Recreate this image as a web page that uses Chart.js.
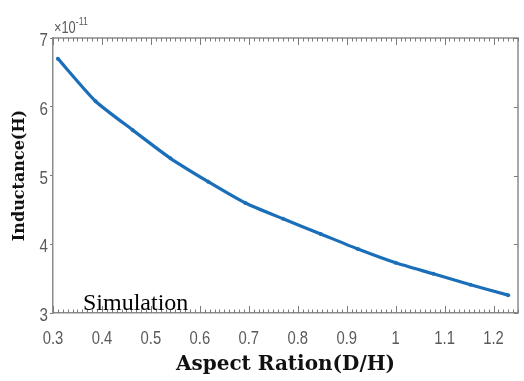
<!DOCTYPE html>
<html>
<head>
<meta charset="utf-8">
<script src="https://cdn.jsdelivr.net/npm/chart.js@4"></script>
<style>
  html, body { margin: 0; padding: 0; background: #fff; }
  #wrap { width: 524px; height: 381px; }
</style>
</head>
<body>
<div id="wrap"><canvas id="inductanceChart" width="524" height="381"></canvas></div>
<script>
// Aspect ratio D/H against inductance (values in units of 1e-11 H)
const aspectRatio = [0.31, 0.387, 0.463, 0.54, 0.617, 0.693, 0.77, 0.847, 0.923, 1.0, 1.077, 1.153, 1.23];
const inductanceE11 = [6.70, 6.08, 5.66, 5.25, 4.91, 4.60, 4.37, 4.15, 3.93, 3.73, 3.57, 3.41, 3.26];
const xTickValues = [0.3, 0.4, 0.5, 0.6, 0.7, 0.8, 0.9, 1.0, 1.1, 1.2];
const yTickValues = [3, 4, 5, 6, 7];

const tickFont = "'Liberation Sans', Arial, sans-serif";
const axisGray = '#8c8c8c';
const labelGray = '#5a5a5a';

// texto estreito (fonte comprimida na horizontal)
function narrowText(ctx, text, px, py, sx) {
    ctx.save();
    ctx.translate(px, py);
    ctx.scale(sx, 1);
    ctx.fillText(text, 0, 0);
    ctx.restore();
}

// caixa estilo matlab: borda superior/direita, ticks internos, rotulos e textos extras
const boxPlugin = {
    id: 'matlabBox',
    afterDraw(chart) {
        const { ctx, chartArea: a, scales: { x, y } } = chart;
        ctx.save();
        ctx.strokeStyle = axisGray;
        ctx.lineWidth = 1.5;
        ctx.beginPath();
        ctx.moveTo(a.left, a.top);
        ctx.lineTo(a.right, a.top);
        ctx.lineTo(a.right, a.bottom);
        ctx.stroke();

        // ticks menores a cada 0.01 no eixo x (em cima e em baixo)
        ctx.strokeStyle = '#7a7a7a';
        ctx.lineWidth = 1;
        for (let i = 30; i <= 125; i++) {
            const px = Math.round(x.getPixelForValue(i / 100)) + 0.5;
            const len = i % 10 === 0 ? 7 : 3.5;
            ctx.beginPath();
            ctx.moveTo(px, a.top);
            ctx.lineTo(px, a.top + len);
            ctx.moveTo(px, a.bottom);
            ctx.lineTo(px, a.bottom - len);
            ctx.stroke();
        }
        // ticks do lado direito
        yTickValues.forEach(v => {
            const py = Math.round(y.getPixelForValue(v)) + 0.5;
            ctx.beginPath();
            ctx.moveTo(a.right, py);
            ctx.lineTo(a.right - 4, py);
            ctx.stroke();
        });

        // rotulos dos eixos
        ctx.fillStyle = labelGray;
        ctx.font = '19px ' + tickFont;
        ctx.textAlign = 'center';
        ctx.textBaseline = 'top';
        xTickValues.forEach(v => {
            narrowText(ctx, String(Number(v.toFixed(1))), x.getPixelForValue(v), a.bottom + 16, 0.78);
        });
        ctx.textAlign = 'right';
        ctx.textBaseline = 'middle';
        yTickValues.forEach(v => {
            narrowText(ctx, String(v), a.left - 5, y.getPixelForValue(v) + 3, 0.8);
        });

        // multiplicador do eixo y
        ctx.textBaseline = 'alphabetic';
        ctx.textAlign = 'left';
        ctx.font = '16px ' + tickFont;
        narrowText(ctx, '\u00d710', a.left + 1, a.top - 5, 0.8);
        const w = ctx.measureText('\u00d710').width * 0.8;
        ctx.font = '11px ' + tickFont;
        narrowText(ctx, '-11', a.left + 1 + w, a.top - 13, 0.8);

        // legenda em texto
        ctx.fillStyle = '#000';
        ctx.font = "24px 'Liberation Serif', 'Times New Roman', serif";
        ctx.fillText('Simulation', a.left + 30, a.bottom - 3);
        ctx.restore();
    }
};

const ctx = document.getElementById('inductanceChart').getContext('2d');
const inductanceChart = new Chart(ctx, {
    type: 'line',
    data: {
        datasets: [{
            label: 'Simulation',
            data: aspectRatio.map((v, i) => ({ x: v, y: inductanceE11[i] })),
            borderColor: '#1b6fb8',
            backgroundColor: '#1b6fb8',
            borderWidth: 3.2,
            pointRadius: 2,
            pointBorderWidth: 0,
            tension: 0.2,
            fill: false
        }]
    },
    options: {
        responsive: false,
        animation: false,
        layout: { padding: { top: 38, right: 6, left: 0, bottom: 0 } },
        plugins: {
            legend: { display: false },
            tooltip: { enabled: false }
        },
        scales: {
            x: {
                type: 'linear',
                min: 0.3,
                max: 1.25,
                afterFit: scale => { scale.height = 68; },
                afterBuildTicks: scale => { scale.ticks = xTickValues.map(v => ({ value: v })); },
                grid: { drawOnChartArea: false, drawTicks: false },
                border: { color: axisGray, width: 1.5 },
                ticks: { display: false },
                title: {
                    display: true,
                    text: 'Aspect Ration(D/H)',
                    color: '#111',
                    font: { family: "'DejaVu Serif', serif", size: 20, weight: 'bold' },
                    padding: { top: 0, bottom: 4 }
                }
            },
            y: {
                min: 3,
                max: 7,
                afterFit: scale => { scale.width = 53; },
                afterBuildTicks: scale => { scale.ticks = yTickValues.map(v => ({ value: v })); },
                grid: { drawOnChartArea: false, drawTicks: true, tickLength: 3, color: '#7a7a7a' },
                border: { color: axisGray, width: 1.5 },
                ticks: { display: false },
                title: {
                    display: true,
                    text: 'Inductance(H)',
                    color: '#111',
                    font: { family: "'DejaVu Serif', serif", size: 16, weight: 'bold' },
                    padding: { top: 10, bottom: 0 }
                }
            }
        }
    },
    plugins: [boxPlugin]
});
</script>
</body>
</html>
